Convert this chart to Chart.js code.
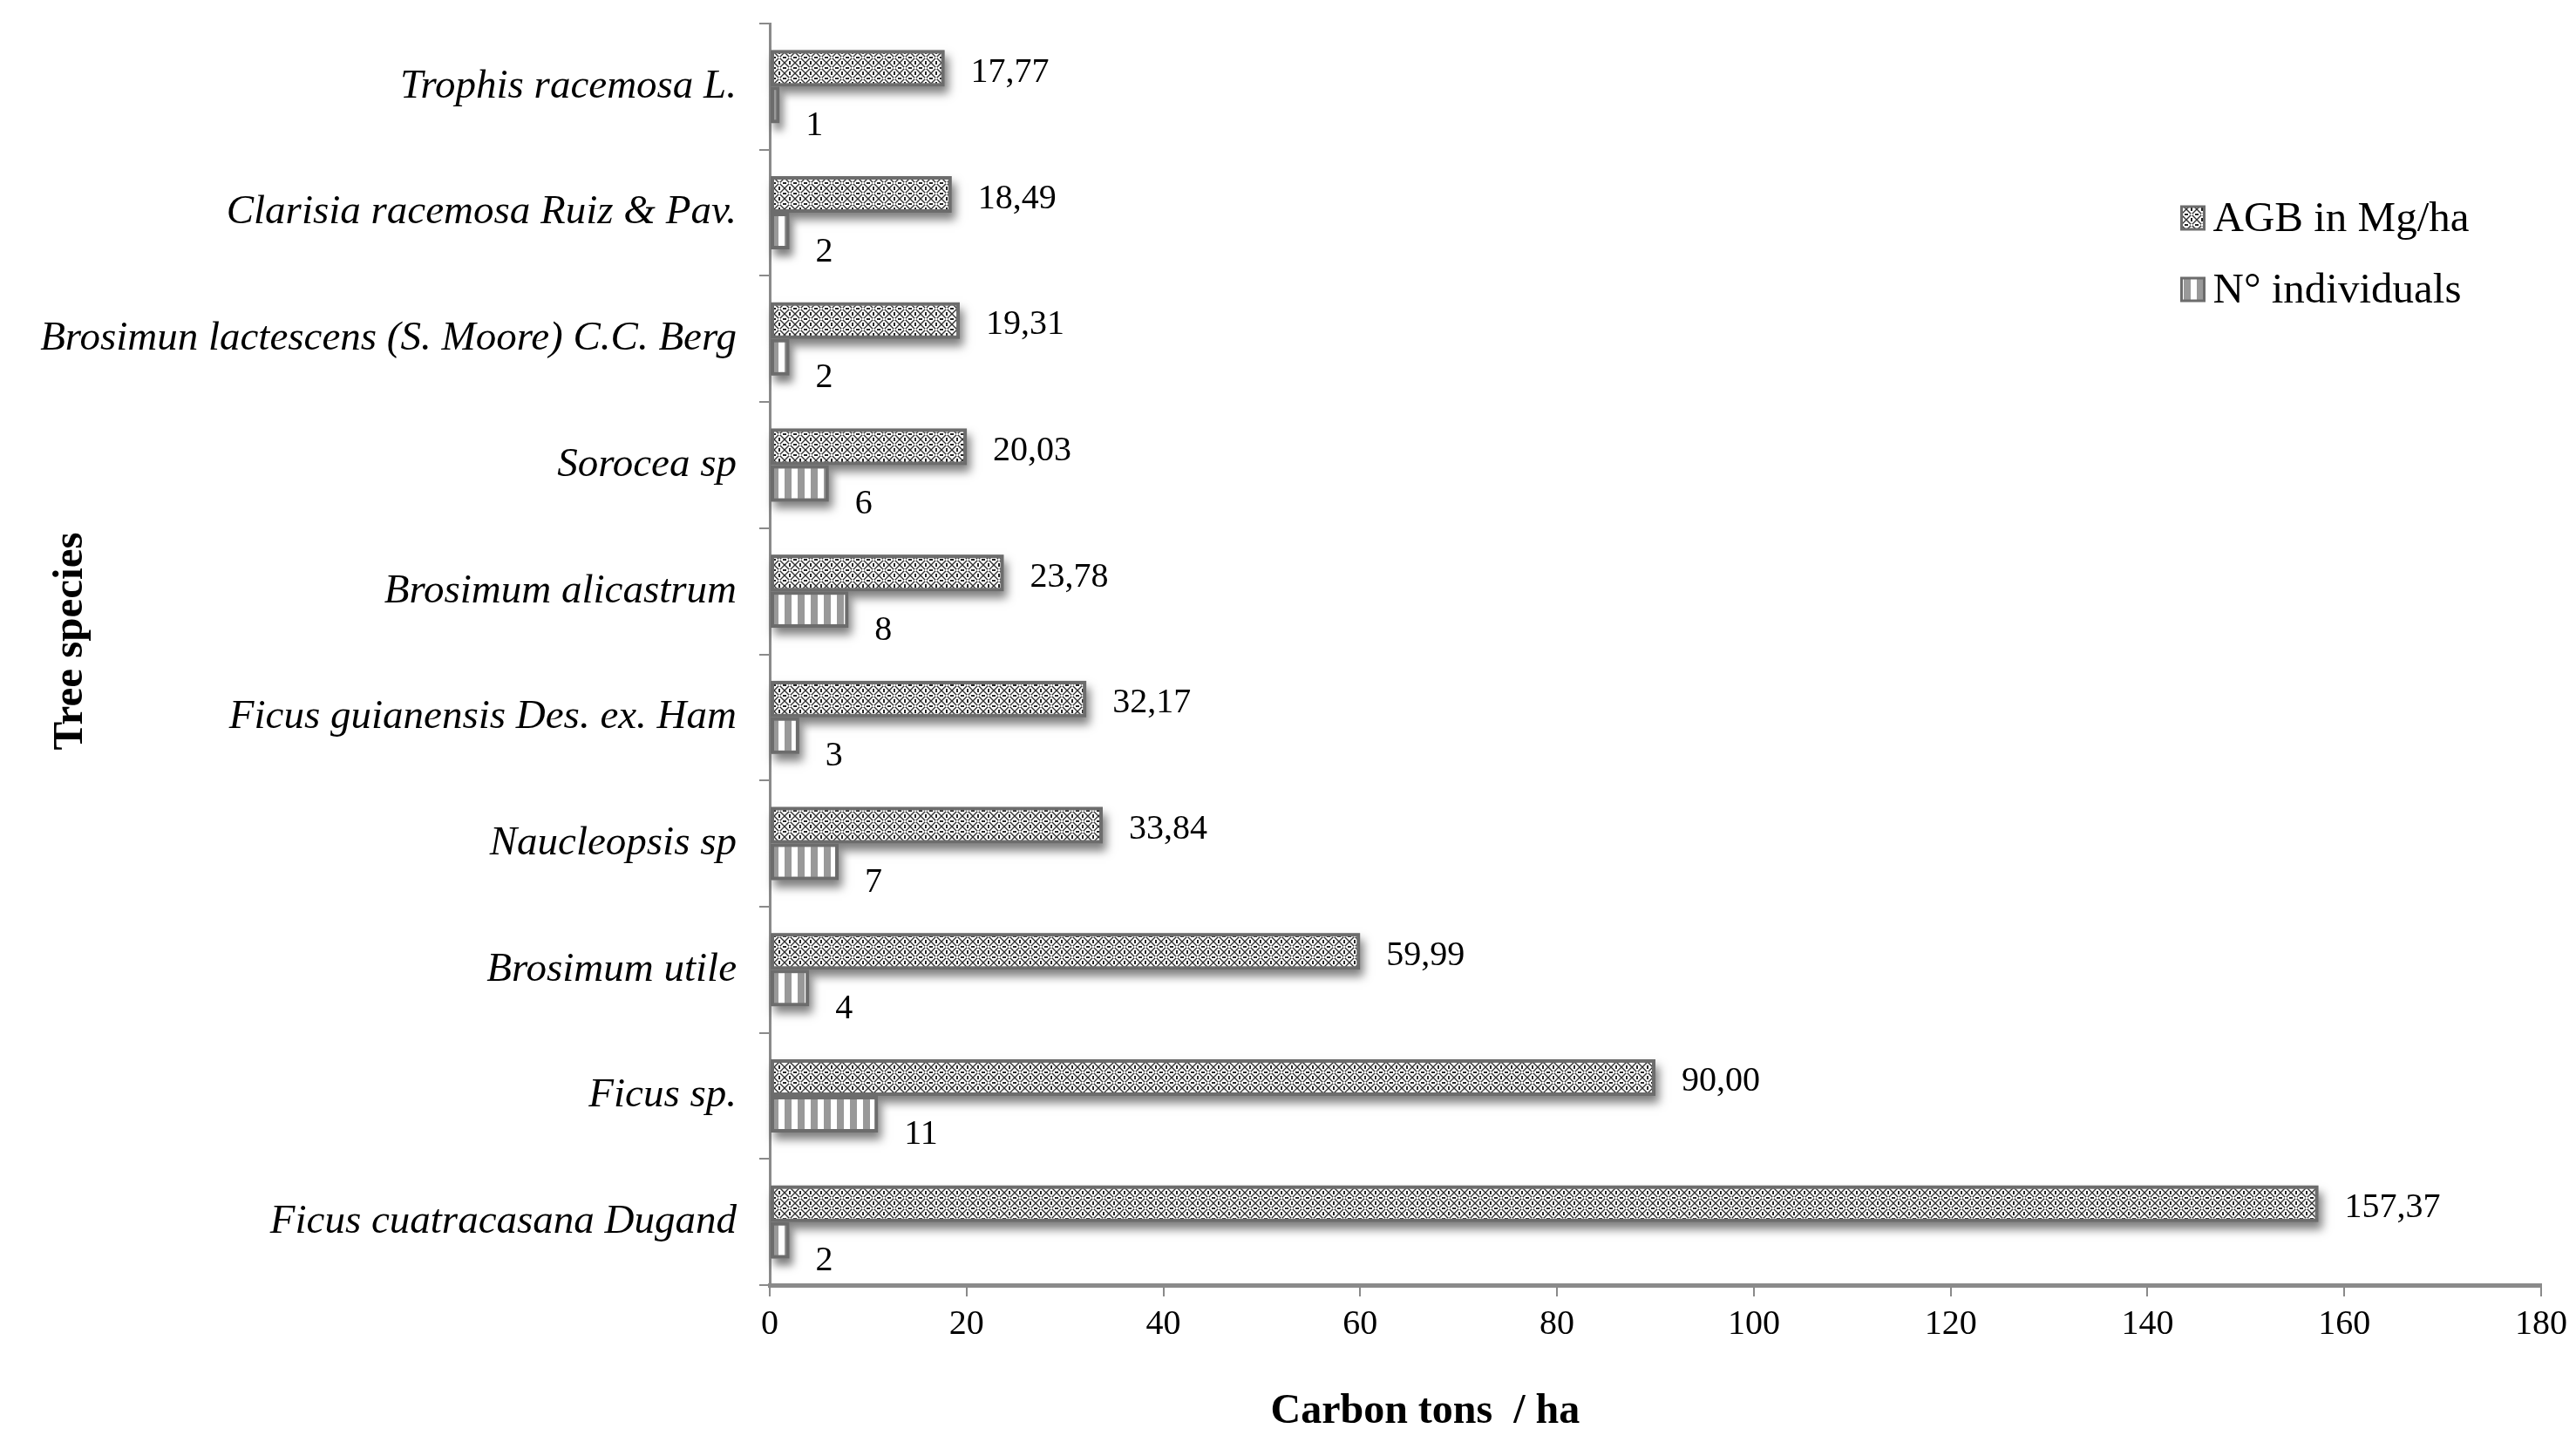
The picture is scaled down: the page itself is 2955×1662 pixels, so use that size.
<!DOCTYPE html>
<html>
<head>
<meta charset="utf-8">
<script src="https://cdn.jsdelivr.net/npm/chart.js@4/dist/chart.umd.min.js"></script>
<style>
  html, body { margin:0; padding:0; background:#fff; }
  #wrap { width:2955px; height:1662px; position:relative; }
</style>
</head>
<body>
<div id="wrap"><canvas id="chart"></canvas></div>
<script>
// data, top category first
var species = [
  "Trophis racemosa L.",
  "Clarisia racemosa Ruiz & Pav.",
  "Brosimun lactescens (S. Moore) C.C. Berg",
  "Sorocea sp",
  "Brosimum alicastrum",
  "Ficus guianensis Des. ex. Ham",
  "Naucleopsis sp",
  "Brosimum utile",
  "Ficus sp.",
  "Ficus cuatracasana Dugand"
]
var agb = [17.77, 18.49, 19.31, 20.03, 23.78, 32.17, 33.84, 59.99, 90.00, 157.37]
var individuals = [1, 2, 2, 6, 8, 3, 7, 4, 11, 2]
var seriesNames = ["AGB in Mg/ha", "N\u00b0 individuals"]
var xMax = 180
var xStep = 20

var serif = "'Liberation Serif', 'Times New Roman', serif"
var borderGrey = "#6c6c6c"
var axisGrey = "#8a8a8a"

// pattern fills like the excel hatches
function hatchPattern() {
  var c = document.createElement("canvas")
  c.width = 12; c.height = 12
  var g = c.getContext("2d")
  g.fillStyle = "#fff"
  g.fillRect(0, 0, 12, 12)
  g.strokeStyle = "#333"
  g.lineWidth = 1.4
  g.beginPath()
  g.moveTo(0, 0); g.lineTo(12, 12)
  g.moveTo(12, 0); g.lineTo(0, 12)
  g.stroke()
  g.fillStyle = "#222"
  g.fillRect(5, 0, 2, 2)
  g.fillRect(0, 5, 2, 2)
  g.fillRect(10, 5, 2, 2)
  g.fillRect(5, 10, 2, 2)
  g.fillStyle = "#fff"
  g.fillRect(5, 5, 2, 2)
  return document.getElementById("chart").getContext("2d").createPattern(c, "repeat")
}

function stripePattern() {
  var c = document.createElement("canvas")
  c.width = 15; c.height = 15
  var g = c.getContext("2d")
  g.fillStyle = "#fff"
  g.fillRect(0, 0, 15, 15)
  g.fillStyle = "#999"
  g.fillRect(0, 0, 8, 15)
  return document.getElementById("chart").getContext("2d").createPattern(c, "repeat")
}

var agbFill = hatchPattern()
var indFill = stripePattern()

var fmt = (v) => v.toFixed(2).replace(".", ",")

var extras = {
  id: "extras",
  beforeDatasetsDraw(chart) {
    var ctx = chart.ctx
    ctx.save()
    ctx.shadowColor = "rgba(0,0,0,0.5)"
    ctx.shadowBlur = 10
    ctx.shadowOffsetX = 4
    ctx.shadowOffsetY = 8
    ctx.fillStyle = "#888"
    chart.data.datasets.forEach((ds, d) => {
      chart.getDatasetMeta(d).data.forEach(el => {
        var p = el.getProps(["x", "y", "base", "height"], true)
        ctx.fillRect(p.base, p.y - p.height / 2, p.x - p.base, p.height)
      })
    })
    ctx.restore()
  },
  afterDatasetsDraw(chart) {
    var ctx = chart.ctx
    ctx.save()
    ctx.fillStyle = "#000"
    ctx.font = "40px " + serif
    ctx.textBaseline = "middle"
    ctx.textAlign = "left"
    chart.getDatasetMeta(0).data.forEach((el, i) => {
      ctx.fillText(fmt(agb[i]), el.x + 30, el.y + 5)
    })
    chart.getDatasetMeta(1).data.forEach((el, i) => {
      ctx.fillText(String(individuals[i]), el.x + 30, el.y + 24)
    })
    ctx.restore()
  },
  afterDraw(chart) {
    var ctx = chart.ctx
    var a = chart.chartArea
    ctx.save()
    // legend
    var fills = [agbFill, indFill]
    var lx = a.left + (a.right - a.left) * 0.797
    ctx.font = "49px " + serif
    ctx.textBaseline = "middle"
    ctx.textAlign = "left"
    for (var i = 0; i < 2; i++) {
      var ly = 250 + i * 82
      ctx.fillStyle = fills[i]
      ctx.fillRect(lx, ly - 13, 26, 26)
      ctx.strokeStyle = borderGrey
      ctx.lineWidth = 3
      ctx.strokeRect(lx, ly - 13, 26, 26)
      ctx.fillStyle = "#000"
      ctx.fillText(seriesNames[i], lx + 36, ly + 2)
    }
    // axis titles
    ctx.font = "bold 48px " + serif
    ctx.textAlign = "center"
    ctx.fillText("Carbon tons  / ha", a.left + (a.right - a.left) * 0.37, 1620)
    ctx.translate(81, (a.top + a.bottom) / 2 - 15)
    ctx.rotate(-Math.PI / 2)
    ctx.font = "bold 49px " + serif
    ctx.fillText("Tree species", 0, 0)
    ctx.restore()
  }
}

new Chart(document.getElementById("chart"), {
  type: "bar",
  data: {
    labels: species,
    datasets: [
      {
        label: seriesNames[0],
        data: agb,
        backgroundColor: agbFill,
        borderColor: borderGrey,
        borderWidth: 4,
        borderSkipped: false
      },
      {
        label: seriesNames[1],
        data: individuals,
        backgroundColor: indFill,
        borderColor: borderGrey,
        borderWidth: 4,
        borderSkipped: false
      }
    ]
  },
  options: {
    indexAxis: "y",
    responsive: true,
    maintainAspectRatio: false,
    devicePixelRatio: 1,
    animation: false,
    barPercentage: 1,
    categoryPercentage: 0.58,
    layout: { padding: { top: 27, right: 40, left: 0, bottom: 0 } },
    plugins: {
      legend: { display: false },
      tooltip: { enabled: false }
    },
    scales: {
      x: {
        min: 0,
        max: xMax,
        ticks: { stepSize: xStep, color: "#000", padding: 8, font: { family: serif, size: 40 } },
        grid: { drawOnChartArea: false, color: axisGrey, lineWidth: 2, tickLength: 13 },
        border: { color: axisGrey, width: 5 },
        afterFit: (s) => { s.height = 188; s.paddingLeft = 0; s.paddingRight = 0 }
      },
      y: {
        ticks: { color: "#000", padding: 26, font: { family: serif, size: 47, style: "italic" } },
        grid: { drawOnChartArea: false, color: axisGrey, lineWidth: 2, tickLength: 12, offset: true },
        border: { color: axisGrey, width: 3 },
        afterFit: (s) => { s.width = 883; s.paddingTop = 0; s.paddingBottom = 0 }
      }
    }
  },
  plugins: [extras]
})
</script>
</body>
</html>
